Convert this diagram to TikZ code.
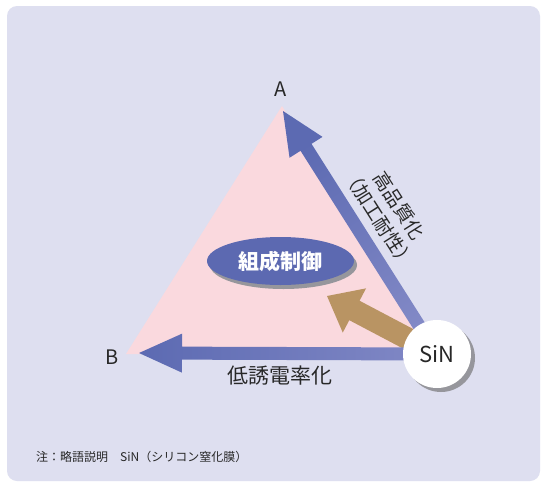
\documentclass[tikz,border=0pt]{standalone}
\usepackage{fontspec}
\setmainfont{Noto Sans CJK JP}
\usetikzlibrary{calc,shapes.geometric}
\definecolor{bgc}{RGB}{222,223,240}
\definecolor{pinkc}{RGB}{250,217,222}
\definecolor{bluedark}{RGB}{92,106,178}
\definecolor{bluelight}{RGB}{130,137,198}
\definecolor{ellc}{RGB}{92,105,177}
\definecolor{brownc}{RGB}{185,148,99}
\definecolor{shadowc}{RGB}{150,150,156}
\definecolor{txtc}{RGB}{40,40,40}
\tikzset{
  lbl/.style={text=txtc, inner sep=0pt},
}
\begin{document}
\begin{tikzpicture}[x=1pt,y=-1pt]
\useasboundingbox (0,0) rectangle (542,483);
\fill[white] (0,0) rectangle (542,483);
\fill[bgc, rounded corners=10pt] (7,6) rectangle (540,481);
% key points
\coordinate (sinc) at (437,354);
\coordinate (tipA) at (283,111);
\coordinate (tipB) at (139,353);
\coordinate (tipC) at (327,296);
\coordinate (pA) at (282,106);
\coordinate (pB) at (126,354);
% pink triangle
\fill[pinkc] (pA) -- (pB) -- (sinc) -- cycle;
% ellipse with shadow
\fill[shadowc] (283.5,265) ellipse [x radius=73.5, y radius=24];
\node[ellipse, fill=ellc, minimum width=147pt, minimum height=48pt, inner sep=0pt,
  text=white, font=\bfseries\fontsize{21}{24}\selectfont] (ctrl) at (280.5,261) {組成制御};
% brown arrow
\coordinate (bC) at ($(tipC)!31pt!(sinc)$);
\fill[brownc] ($(sinc)!11pt!90:(tipC)$) -- ($(bC)!11pt!90:(tipC)$) -- ($(bC)!25pt!90:(tipC)$)
  -- (tipC) -- ($(bC)!25pt!-90:(tipC)$) -- ($(bC)!11pt!-90:(tipC)$) -- ($(sinc)!11pt!-90:(tipC)$) -- cycle;
% bottom arrow
\coordinate (bB) at ($(tipB)!43pt!(sinc)$);
\shade[left color=bluedark, right color=bluelight]
  ($(sinc)!6.5pt!90:(tipB)$) -- ($(bB)!6.5pt!90:(tipB)$) -- ($(bB)!19.5pt!90:(tipB)$)
  -- (tipB) -- ($(bB)!19.5pt!-90:(tipB)$) -- ($(bB)!6.5pt!-90:(tipB)$) -- ($(sinc)!6.5pt!-90:(tipB)$) -- cycle;
% right arrow
\coordinate (bA) at ($(tipA)!43pt!(sinc)$);
\shade[top color=bluedark, bottom color=bluelight, shading angle=32.4]
  ($(sinc)!6.5pt!90:(tipA)$) -- ($(bA)!6.5pt!90:(tipA)$) -- ($(bA)!19.5pt!90:(tipA)$)
  -- (tipA) -- ($(bA)!19.5pt!-90:(tipA)$) -- ($(bA)!6.5pt!-90:(tipA)$) -- ($(sinc)!6.5pt!-90:(tipA)$) -- cycle;
% SiN circle
\fill[shadowc] (441,358) circle [radius=34];
\node[circle, fill=white, minimum size=68pt, inner sep=0pt, text=txtc,
  font=\fontsize{22}{24}\selectfont] (sin) at (sinc) {SiN};
% labels
\node[lbl, font=\fontsize{20}{24}\selectfont] (A) at (281,89) {A};
\node[lbl, font=\fontsize{20}{24}\selectfont] (B) at (112,357) {B};
\node[lbl, font=\fontsize{21}{24}\selectfont] (low) at (280,376) {低誘電率化};
\node[lbl, rotate=-57.6, align=center, font=\fontsize{19}{24}\selectfont] (hq) at (389,212) {高品質化\\（加工耐性）};
\node[lbl, anchor=west, font=\fontsize{12}{14}\selectfont] (note) at (36,457) {注：略語説明　SiN（シリコン窒化膜）};
\end{tikzpicture}
\end{document}
